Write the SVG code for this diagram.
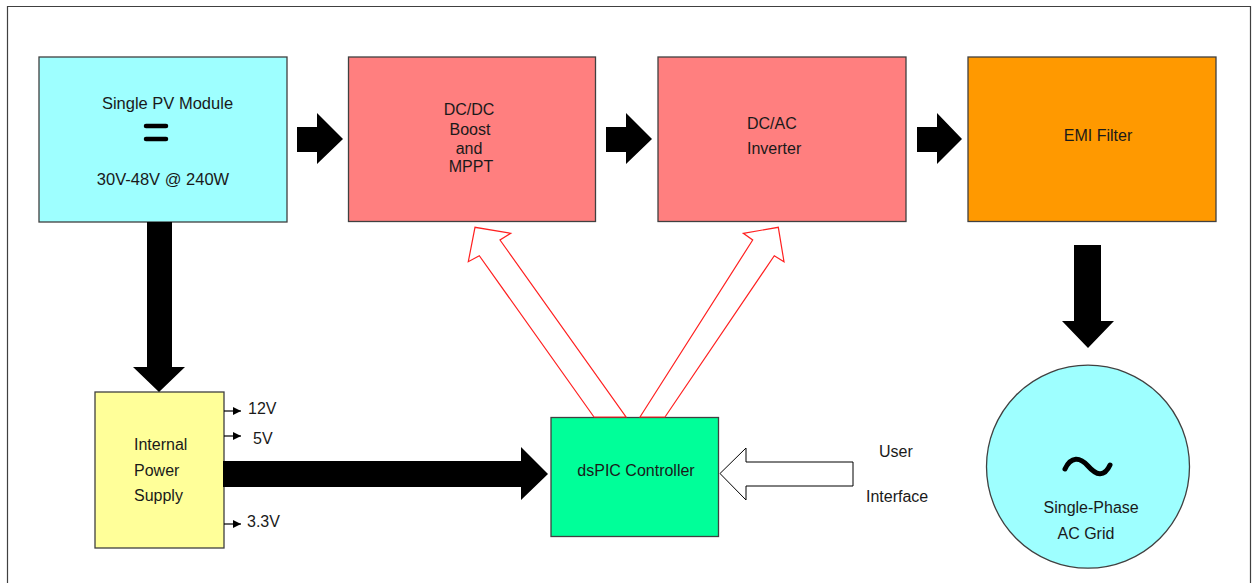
<svg xmlns="http://www.w3.org/2000/svg" width="1255" height="583" viewBox="0 0 1255 583">
<style>
text{font-family:"Liberation Sans",Arial,sans-serif;font-size:16px;fill:#1a1a1a}
.box{stroke:#404040;stroke-width:1.3}
.blk{fill:#000;stroke:none}
.red{fill:#fff;stroke:#ff2020;stroke-width:1.2;stroke-linejoin:miter}
.ui{fill:#fff;stroke:#000;stroke-width:1}
.small{fill:none;stroke:#000;stroke-width:1.2}
.sym{fill:none;stroke:#000;stroke-width:5;stroke-linecap:round}
.m{text-anchor:middle}
</style>
<defs>
<marker id="ah" viewBox="0 0 10 10" refX="10" refY="5" markerWidth="9" markerHeight="8" markerUnits="userSpaceOnUse" orient="auto">
<path d="M0,0 L10,5 L0,10 Z" fill="#000"/>
</marker>
</defs>
<rect x="0" y="0" width="1255" height="583" fill="#fff"/>
<path d="M7.5,583 V6.5 H1250.5 V583" fill="none" stroke="#404040" stroke-width="1.2"/>

<g id="pv">
<rect class="box" x="39" y="57" width="248" height="165" fill="#9effff"/>
<text class="m" x="167.5" y="109" style="font-size:16.5px">Single PV Module</text>
<line class="sym" x1="146" y1="126" x2="166" y2="126" style="stroke-width:4.5"/>
<line class="sym" x1="146" y1="139" x2="166" y2="139" style="stroke-width:4.5"/>
<text class="m" x="163" y="185" style="font-size:16.5px">30V-48V @ 240W</text>
</g>

<g id="dcdc">
<rect class="box" x="348.5" y="57" width="247" height="164.5" fill="#ff7f7f"/>
<text class="m" x="469" y="115">DC/DC</text>
<text class="m" x="470" y="135">Boost</text>
<text class="m" x="469" y="153.5">and</text>
<text class="m" x="471" y="171.5">MPPT</text>
</g>

<g id="dcac">
<rect class="box" x="658" y="57" width="248" height="164.5" fill="#ff7f7f"/>
<text x="747" y="128.5">DC/AC</text>
<text x="747" y="154">Inverter</text>
</g>

<g id="emi">
<rect class="box" x="968" y="57" width="248" height="164.5" fill="#ff9900"/>
<text class="m" x="1098" y="141">EMI Filter</text>
</g>

<g id="psu">
<rect class="box" x="95" y="392" width="129" height="156" fill="#ffff99"/>
<text x="134" y="450">Internal</text>
<text x="134" y="476">Power</text>
<text x="134" y="501">Supply</text>
<text x="248" y="413.5">12V</text>
<text x="253" y="444">5V</text>
<text x="247" y="527">3.3V</text>
</g>

<g id="dspic">
<rect class="box" x="551" y="417.5" width="167.5" height="119" fill="#00ff99"/>
<text class="m" x="636" y="476">dsPIC Controller</text>
</g>

<g id="user">
<text x="879" y="457">User</text>
<text x="866" y="502">Interface</text>
</g>

<g id="grid">
<circle class="box" cx="1088" cy="466.7" r="101.5" fill="#9effff"/>
<path class="sym" d="M1065,469 C1071,456 1080,457 1088,466 C1096,475 1104,478 1110,465"/>
<text x="1043.5" y="513">Single-Phase</text>
<text x="1057.5" y="538.5">AC Grid</text>
</g>

<g id="connectors">
<polygon class="blk" points="297,127 317,127 317,113 343,139 317,164 317,152 297,152"/>
<polygon class="blk" points="606,127 626,127 626,113 652,139 626,164 626,152 606,152"/>
<polygon class="blk" points="917,127 937,127 937,113 962,139 937,164 937,152 917,152"/>
<polygon class="blk" points="147,222 172,222 172,367 185,367 159,392 133,367 147,367"/>
<polygon class="blk" points="1074,245 1101,245 1101,321 1114,321 1088,348 1062,321 1074,321"/>
<polygon class="blk" points="223,461 521,461 521,447 548,474 521,500 521,487 223,487"/>
<polygon class="red" points="594,417 479.3,255.7 468.3,261.7 475,227.3 510.7,233.3 500,240 626,417"/>
<polygon class="red" points="640,417 752.7,240 743.3,233.3 778.3,227.3 784,261.7 774.3,255.7 665,417"/>
<polygon class="ui" points="853,462 746,462 746,448 720,473.5 746,500 746,486 853,486"/>
<line class="small" x1="224" y1="411" x2="241" y2="411" marker-end="url(#ah)"/>
<line class="small" x1="224" y1="436" x2="241" y2="436" marker-end="url(#ah)"/>
<line class="small" x1="224" y1="524" x2="241" y2="524" marker-end="url(#ah)"/>
</g>
</svg>
